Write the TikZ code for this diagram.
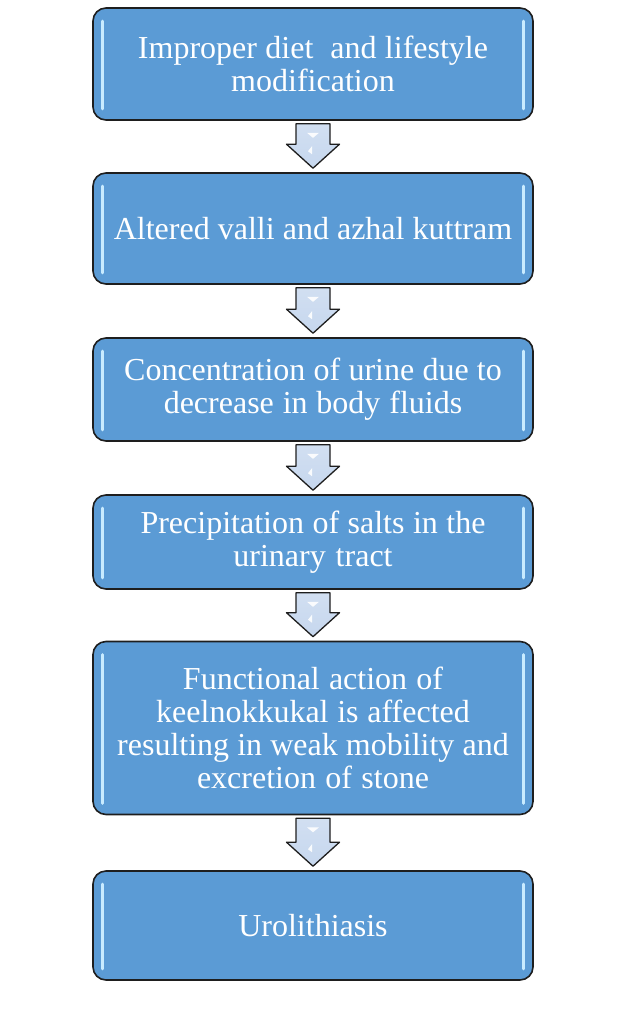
\documentclass[tikz,border=0pt]{standalone}
\usepackage{fontspec}
\setmainfont{Liberation Serif}
\usetikzlibrary{calc}
\definecolor{boxblue}{HTML}{5B9BD5}
\definecolor{boxedge}{HTML}{1E1E1E}
\definecolor{arrfill}{HTML}{C6D7EE}
\definecolor{hilite}{HTML}{C8EBFF}
\newcommand\tightwords{\spaceskip=7.8pt plus 1pt minus 0.5pt\relax}
\tikzset{
  flowbox/.style={draw=boxedge, line width=1.6pt, fill=boxblue, rounded corners=13pt,
    minimum width=440pt, text=white, text width=432pt, align=center,
    font=\fontsize{32}{33}\selectfont, inner sep=0pt},
  blockarr/.style={draw=boxedge, line width=1.3pt, top color=arrfill!80!white, bottom color=arrfill, line join=round},
  glint/.style={draw=hilite, line width=3pt, line cap=round},
  glintfill/.style={fill=white, draw=none, opacity=0.9}
}
\newcommand\flowarr[2]{%
  \draw[blockarr] ($(#1.south)+(-17,3)$) -- ($(#1.south)+(17,3)$) -- ($(#2.north)+(17,-28)$)
    -- ($(#2.north)+(26.5,-28)$) -- ($(#2.north)+(0,-4)$) -- ($(#2.north)+(-26.5,-28)$)
    -- ($(#2.north)+(-17,-28)$) -- cycle;
  \fill[glintfill] ($(#1.south)+(-6,12)$) -- ($(#1.south)+(6,12)$) -- ($(#1.south)+(0,17)$) -- cycle;
  \fill[glintfill] ($(#2.north)+(-1,-26)$) -- ($(#2.north)+(-1,-18)$) -- ($(#2.north)+(-5,-21)$) -- cycle;
}
\newcommand\glints[1]{%
  \draw[glint] ($(#1.north west)+(10,14)$) -- ($(#1.south west)+(10,-12)$);
  \draw[glint] ($(#1.north east)+(-10,14)$) -- ($(#1.south east)+(-10,-12)$);
}
\begin{document}
\begin{tikzpicture}[x=1pt,y=-1pt]
\useasboundingbox (0,0) rectangle (624,1023);
\node[flowbox, minimum height=112pt] (b1) at (313,64) {\tightwords Improper diet \ and lifestyle\\modification};
\node[flowbox, minimum height=111pt] (b2) at (313,228.5) {\tightwords Altered valli and azhal kuttram};
\node[flowbox, minimum height=103pt] (b3) at (313,389.5) {\tightwords Concentration of urine due to\\decrease in body fluids};
\node[flowbox, minimum height=94pt] (b4) at (313,542) {\tightwords Precipitation of salts in the\\urinary tract};
\node[flowbox, minimum height=173pt] (b5) at (313,728) {\tightwords Functional action of\\keelnokkukal is affected\\resulting in weak mobility and\\excretion of stone};
\node[flowbox, minimum height=109pt] (b6) at (313,925.5) {\tightwords Urolithiasis};
\foreach \b in {b1,b2,b3,b4,b5,b6}{\glints{\b}}
\flowarr{b1}{b2}
\flowarr{b2}{b3}
\flowarr{b3}{b4}
\flowarr{b4}{b5}
\flowarr{b5}{b6}
\end{tikzpicture}
\end{document}
